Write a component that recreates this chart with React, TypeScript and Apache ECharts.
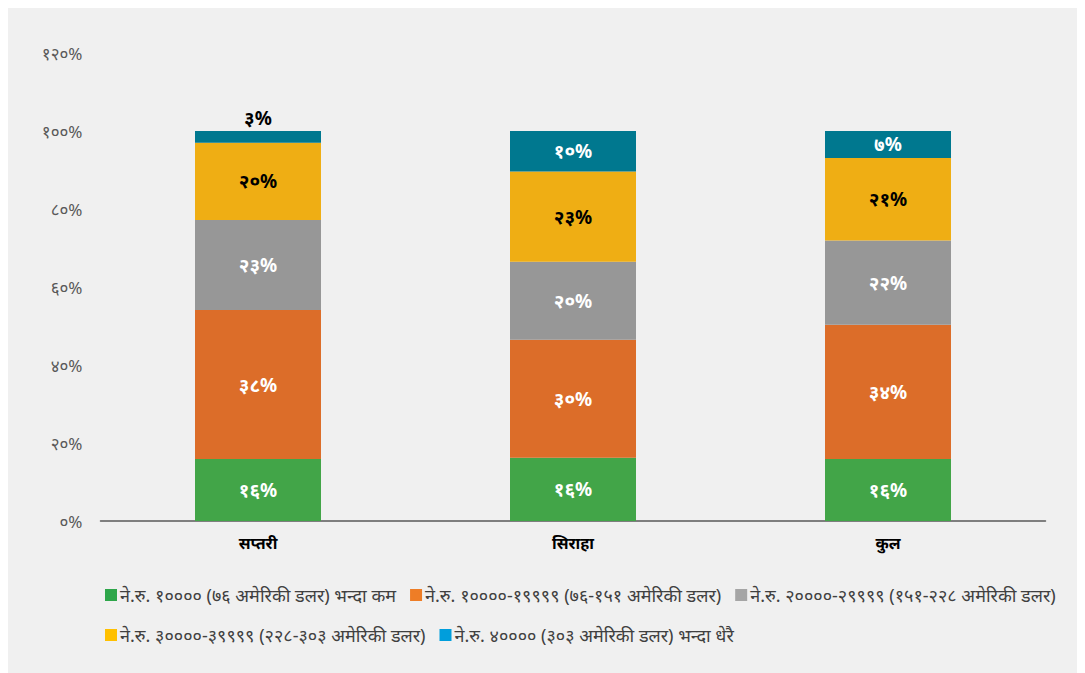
import React, { useEffect, useRef } from "react";
import * as echarts from "echarts";

const categories = ["सप्तरी", "सिराहा", "कुल"];
const seriesNames = [
  "ने.रु. १०००० (७६ अमेरिकी डलर) भन्दा कम",
  "ने.रु. १००००-१९९९९ (७६-१५१ अमेरिकी डलर)",
  "ने.रु. २००००-२९९९९ (१५१-२२८ अमेरिकी डलर)",
  "ने.रु. ३००००-३९९९९ (२२८-३०३ अमेरिकी डलर)",
  "ने.रु. ४०००० (३०३ अमेरिकी डलर) भन्दा धेरै",
];
const below10k = [15.9, 16.2, 15.9];
const from10kTo20k = [38.2, 30.3, 34.4];
const from20kTo30k = [23.1, 20.0, 21.6];
const from30kTo40k = [19.8, 23.1, 21.2];
const above40k = [3.0, 10.4, 6.9];
const yTicks = [0, 20, 40, 60, 80, 100, 120];

const barColors = ["#42a548", "#dc6d29", "#979797", "#efae14", "#00788f"];
const legendColors = ["#2ea64a", "#ee7d26", "#a5a5a5", "#ffc000", "#009edc"];
const labelColors = ["#ffffff", "#ffffff", "#ffffff", "#000000", "#ffffff"];

const DEV = "०१२३४५६७८९";
const toDev = (n: number) => String(n).replace(/[0-9]/g, (d) => DEV[Number(d)]);

export default function App() {
  const ref = useRef<HTMLDivElement>(null);
  useEffect(() => {
    if (!ref.current) return;
    const chart = echarts.init(ref.current, null, { renderer: "svg" });
    const allData = [below10k, from10kTo20k, from20kTo30k, from30kTo40k, above40k];
    const series = allData.map((arr, si) => ({
      name: seriesNames[si],
      type: "bar",
      stack: "total",
      barWidth: 126,
      itemStyle: { color: barColors[si] },
      label: {
        show: true,
        position: "inside",
        color: labelColors[si],
        fontSize: 19,
        fontWeight: "bold",
        formatter: (p: any) => toDev(Math.round(p.value)) + "%",
      },
      data: arr.map((v) =>
        si === 4 && v < 5
          ? { value: v, label: { position: "top", color: "#000000", distance: 4 } }
          : v
      ),
    }));
    chart.setOption({
      animation: false,
      backgroundColor: "#f0f0f0",
      textStyle: { fontFamily: "'Noto Sans', sans-serif" },
      grid: { left: 92.5, right: 31.5, top: 45, bottom: 152 },
      legend: {
        left: 92,
        top: 569,
        width: 985,
        itemWidth: 12,
        itemHeight: 12,
        itemGap: 14,
        icon: "rect",
        textStyle: { fontSize: 18, lineHeight: 26, color: "#404040", padding: [0, 0, 0, -2] },
        data: seriesNames.map((n, i) => ({ name: n, itemStyle: { color: legendColors[i] } })),
      },
      xAxis: {
        type: "category",
        data: categories,
        axisLine: { lineStyle: { color: "#595959", width: 1.5 } },
        axisTick: { show: false },
        axisLabel: { color: "#000000", fontSize: 16, fontWeight: "bold", margin: 14 },
      },
      yAxis: {
        type: "value",
        min: 0,
        max: 120,
        interval: 20,
        axisLine: { show: false },
        axisTick: { show: false },
        splitLine: { show: false },
        axisLabel: {
          color: "#595959",
          fontSize: 17,
          margin: 18,
          formatter: (v: number) => (yTicks.includes(v) ? toDev(v) + "%" : ""),
        },
      },
      series,
    });
    return () => chart.dispose();
  }, []);
  return <div ref={ref} style={{ width: 1069, height: 665 }} />;
}
